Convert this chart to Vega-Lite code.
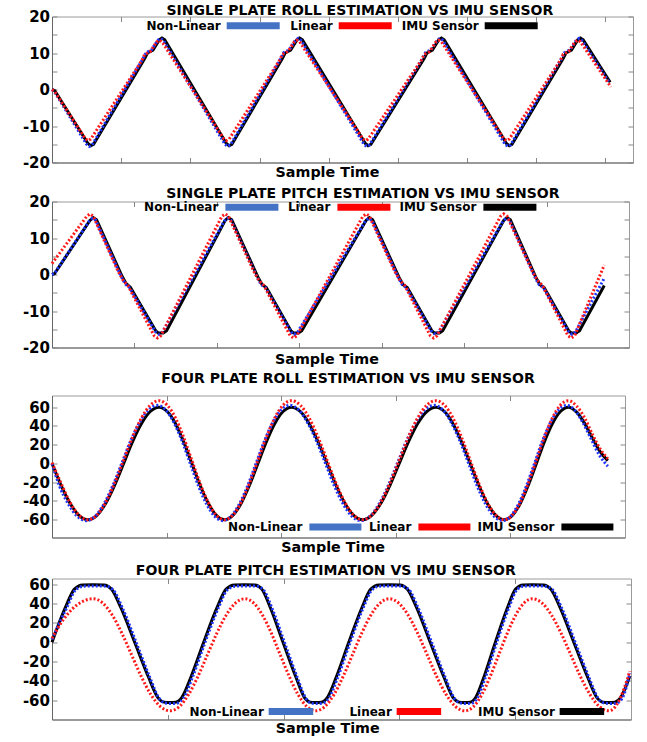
{
  "$schema": "https://vega.github.io/schema/vega-lite/v6.json",
  "background": "white",
  "padding": {"left": 21, "top": -1.5, "right": 2, "bottom": 0},
  "columns": 1,
  "align": "none",
  "spacing": -1,
  "resolve": {"scale": {"color": "independent"}, "legend": {"color": "independent"}},
  "config": {
    "view": {"stroke": "#9a9a9a"},
    "axis": {"grid": false, "domainColor": "#666", "tickColor": "#888", "labelFont": "DejaVu Sans", "labelFontWeight": "bold", "labelFontSize": 15, "labelColor": "#000", "titleFont": "DejaVu Sans", "titleFontWeight": "bold", "titleFontSize": 14.3, "titleColor": "#000"},
    "title": {"font": "DejaVu Sans", "fontWeight": "bold", "fontSize": 14, "color": "#000", "frame": "group", "anchor": "middle"},
    "legend": {"title": null, "padding": 0, "labelFont": "DejaVu Sans", "labelFontWeight": "bold", "labelFontSize": 12, "labelColor": "#000", "labelAlign": "right", "labelLimit": 0, "symbolStrokeWidth": 0, "symbolOpacity": 1, "direction": "horizontal", "orient": "none"}
  },
  "datasets": {
    "p1_imu": [{"x":0,"y":0},{"x":4,"y":-0.3},{"x":52,"y":-14.8},{"x":56,"y":-15.4},{"x":60,"y":-15.0},{"x":134,"y":8.5},{"x":138,"y":10.0},{"x":146,"y":10.8},{"x":155,"y":13.6},{"x":159,"y":14.1},{"x":163,"y":13.6},{"x":252,"y":-14.8},{"x":256,"y":-15.4},{"x":260,"y":-15.0},{"x":333,"y":8.5},{"x":337,"y":10.0},{"x":345,"y":10.8},{"x":354,"y":13.6},{"x":358,"y":14.1},{"x":362,"y":13.6},{"x":453,"y":-14.8},{"x":457,"y":-15.4},{"x":461,"y":-15.0},{"x":538,"y":8.5},{"x":542,"y":10.0},{"x":550,"y":10.8},{"x":559,"y":13.6},{"x":563,"y":14.1},{"x":567,"y":13.6},{"x":657,"y":-14.8},{"x":661,"y":-15.4},{"x":665,"y":-15.0},{"x":739,"y":8.5},{"x":743,"y":10.0},{"x":751,"y":10.8},{"x":760,"y":13.6},{"x":764,"y":14.1},{"x":768,"y":13.6},{"x":807,"y":2.0}],
    "p1_nl": [{"x":0,"y":0},{"x":3,"y":-0.4},{"x":50,"y":-15.0},{"x":54,"y":-15.6},{"x":58,"y":-15.2},{"x":132,"y":8.6},{"x":136,"y":10.1},{"x":144,"y":10.9},{"x":153,"y":13.5},{"x":157,"y":14.0},{"x":161,"y":13.5},{"x":250,"y":-15.0},{"x":254,"y":-15.6},{"x":258,"y":-15.2},{"x":331,"y":8.6},{"x":335,"y":10.1},{"x":343,"y":10.9},{"x":352,"y":13.5},{"x":356,"y":14.0},{"x":360,"y":13.5},{"x":451,"y":-15.0},{"x":455,"y":-15.6},{"x":459,"y":-15.2},{"x":536,"y":8.6},{"x":540,"y":10.1},{"x":548,"y":10.9},{"x":557,"y":13.5},{"x":561,"y":14.0},{"x":565,"y":13.5},{"x":655,"y":-15.0},{"x":659,"y":-15.6},{"x":663,"y":-15.2},{"x":737,"y":8.6},{"x":741,"y":10.1},{"x":749,"y":10.9},{"x":758,"y":13.5},{"x":762,"y":14.0},{"x":766,"y":13.5},{"x":806,"y":1.8}],
    "p1_lin": [{"x":0,"y":0},{"x":4,"y":-0.6},{"x":48,"y":-13.4},{"x":52,"y":-14.0},{"x":56,"y":-13.6},{"x":130,"y":8.0},{"x":134,"y":9.6},{"x":142,"y":10.4},{"x":151,"y":13.0},{"x":155,"y":13.5},{"x":159,"y":13.1},{"x":248,"y":-13.4},{"x":252,"y":-14.0},{"x":256,"y":-13.6},{"x":329,"y":8.0},{"x":333,"y":9.6},{"x":341,"y":10.4},{"x":350,"y":13.0},{"x":354,"y":13.5},{"x":358,"y":13.1},{"x":449,"y":-13.4},{"x":453,"y":-14.0},{"x":457,"y":-13.6},{"x":534,"y":8.0},{"x":538,"y":9.6},{"x":546,"y":10.4},{"x":555,"y":13.0},{"x":559,"y":13.5},{"x":563,"y":13.1},{"x":653,"y":-13.4},{"x":657,"y":-14.0},{"x":661,"y":-13.6},{"x":735,"y":8.0},{"x":739,"y":9.6},{"x":747,"y":10.4},{"x":756,"y":13.0},{"x":760,"y":13.5},{"x":764,"y":13.1},{"x":808,"y":0.7}],
    "p2_imu": [{"x":0,"y":0},{"x":3,"y":0.2},{"x":46,"y":14.8},{"x":50,"y":15.6},{"x":54,"y":15.0},{"x":85,"y":-0.5},{"x":90,"y":-2.5},{"x":95,"y":-3.5},{"x":126,"y":-15.5},{"x":129,"y":-16.0},{"x":135,"y":-16.0},{"x":139,"y":-15.4},{"x":210,"y":14.8},{"x":214,"y":15.6},{"x":218,"y":15.0},{"x":250,"y":-0.8},{"x":255,"y":-2.8},{"x":260,"y":-3.6},{"x":290,"y":-15.5},{"x":293,"y":-16.0},{"x":299,"y":-16.0},{"x":303,"y":-15.4},{"x":381,"y":14.8},{"x":385,"y":15.6},{"x":389,"y":15.0},{"x":421,"y":-0.8},{"x":426,"y":-2.8},{"x":431,"y":-3.6},{"x":461,"y":-15.5},{"x":464,"y":-16.0},{"x":470,"y":-16.0},{"x":474,"y":-15.4},{"x":548,"y":14.8},{"x":552,"y":15.6},{"x":556,"y":15.0},{"x":587,"y":-0.8},{"x":592,"y":-2.8},{"x":597,"y":-3.6},{"x":627,"y":-15.5},{"x":630,"y":-16.0},{"x":636,"y":-16.0},{"x":640,"y":-15.4},{"x":670,"y":-3.0}],
    "p2_nl": [{"x":0,"y":0},{"x":3,"y":0.3},{"x":45,"y":14.6},{"x":49,"y":15.4},{"x":53,"y":14.9},{"x":84,"y":-0.6},{"x":89,"y":-2.6},{"x":94,"y":-3.6},{"x":126,"y":-15.8},{"x":130,"y":-16.4},{"x":134,"y":-15.8},{"x":209,"y":14.6},{"x":213,"y":15.4},{"x":217,"y":14.9},{"x":249,"y":-0.8},{"x":254,"y":-2.8},{"x":259,"y":-3.6},{"x":290,"y":-15.8},{"x":294,"y":-16.4},{"x":298,"y":-15.8},{"x":380,"y":14.6},{"x":384,"y":15.4},{"x":388,"y":14.9},{"x":420,"y":-0.8},{"x":425,"y":-2.8},{"x":430,"y":-3.6},{"x":461,"y":-15.8},{"x":465,"y":-16.4},{"x":469,"y":-15.8},{"x":547,"y":14.6},{"x":551,"y":15.4},{"x":555,"y":14.9},{"x":586,"y":-0.8},{"x":591,"y":-2.8},{"x":596,"y":-3.6},{"x":627,"y":-15.8},{"x":631,"y":-16.4},{"x":635,"y":-15.8},{"x":670,"y":-1.0}],
    "p2_lin": [{"x":0,"y":3.0},{"x":42,"y":15.9},{"x":46,"y":16.6},{"x":50,"y":16.0},{"x":80,"y":1.0},{"x":86,"y":-1.5},{"x":92,"y":-3.0},{"x":124,"y":-16.8},{"x":128,"y":-17.4},{"x":132,"y":-16.8},{"x":206,"y":15.9},{"x":210,"y":16.6},{"x":214,"y":16.0},{"x":245,"y":0.8},{"x":251,"y":-1.6},{"x":257,"y":-3.0},{"x":289,"y":-16.8},{"x":293,"y":-17.4},{"x":297,"y":-16.8},{"x":377,"y":15.9},{"x":381,"y":16.6},{"x":385,"y":16.0},{"x":416,"y":0.8},{"x":422,"y":-1.6},{"x":428,"y":-3.0},{"x":459,"y":-16.8},{"x":463,"y":-17.4},{"x":467,"y":-16.8},{"x":544,"y":15.9},{"x":548,"y":16.6},{"x":552,"y":16.0},{"x":583,"y":0.8},{"x":589,"y":-1.6},{"x":595,"y":-3.0},{"x":626,"y":-16.8},{"x":630,"y":-17.4},{"x":634,"y":-16.8},{"x":670,"y":2.6}],
    "p3_imu": [{"x":0,"y":0},{"x":7.8,"y":-23},{"x":15.7,"y":-42.4},{"x":23.5,"y":-55.4},{"x":31.4,"y":-60},{"x":39.2,"y":-55.4},{"x":46.9,"y":-42.4},{"x":54.7,"y":-23},{"x":62.5,"y":0},{"x":70.2,"y":23},{"x":78,"y":42.4},{"x":85.7,"y":55.4},{"x":93.5,"y":60},{"x":100.6,"y":55.4},{"x":107.8,"y":42.4},{"x":114.9,"y":23},{"x":122,"y":0},{"x":129.1,"y":-23},{"x":136.3,"y":-42.4},{"x":143.4,"y":-55.4},{"x":150.5,"y":-60},{"x":157.8,"y":-55.4},{"x":165.1,"y":-42.4},{"x":172.4,"y":-23},{"x":179.7,"y":0},{"x":187,"y":23},{"x":194.3,"y":42.4},{"x":201.6,"y":55.4},{"x":208.9,"y":60},{"x":216.7,"y":55.4},{"x":224.4,"y":42.4},{"x":232.2,"y":23},{"x":240,"y":0},{"x":247.7,"y":-23},{"x":255.5,"y":-42.4},{"x":263.2,"y":-55.4},{"x":271,"y":-60},{"x":279,"y":-55.4},{"x":287,"y":-42.4},{"x":295,"y":-23},{"x":303,"y":0},{"x":311,"y":23},{"x":319,"y":42.4},{"x":327,"y":55.4},{"x":335,"y":60},{"x":342.5,"y":55.4},{"x":349.9,"y":42.4},{"x":357.4,"y":23},{"x":364.9,"y":0},{"x":372.3,"y":-23},{"x":379.8,"y":-42.4},{"x":387.2,"y":-55.4},{"x":394.7,"y":-60},{"x":401.7,"y":-55.4},{"x":408.7,"y":-42.4},{"x":415.7,"y":-23},{"x":422.7,"y":0},{"x":429.6,"y":23},{"x":436.6,"y":42.4},{"x":443.6,"y":55.4},{"x":450.6,"y":60},{"x":457.6,"y":55},{"x":464.6,"y":43},{"x":471.6,"y":27},{"x":478.6,"y":12},{"x":485,"y":3}],
    "p3_nl": [{"x":0,"y":0},{"x":6.3,"y":-23.3},{"x":14.2,"y":-43.1},{"x":22,"y":-56.3},{"x":29.9,"y":-61},{"x":37.7,"y":-56.3},{"x":45.4,"y":-43.1},{"x":53.2,"y":-23.3},{"x":61,"y":0.5},{"x":68.7,"y":24.3},{"x":76.5,"y":43.8},{"x":84.2,"y":57.2},{"x":92,"y":62},{"x":99.1,"y":57.2},{"x":106.3,"y":43.8},{"x":113.4,"y":24.3},{"x":120.5,"y":0.5},{"x":127.6,"y":-23.3},{"x":134.8,"y":-43.1},{"x":141.9,"y":-56.3},{"x":149,"y":-61},{"x":156.3,"y":-56.3},{"x":163.6,"y":-43.1},{"x":170.9,"y":-23.3},{"x":178.2,"y":0.5},{"x":185.5,"y":24.3},{"x":192.8,"y":43.8},{"x":200.1,"y":57.2},{"x":207.4,"y":62},{"x":215.2,"y":57.2},{"x":222.9,"y":43.8},{"x":230.7,"y":24.3},{"x":238.5,"y":0.5},{"x":246.2,"y":-23.3},{"x":254,"y":-43.1},{"x":261.7,"y":-56.3},{"x":269.5,"y":-61},{"x":277.5,"y":-56.3},{"x":285.5,"y":-43.1},{"x":293.5,"y":-23.3},{"x":301.5,"y":0.5},{"x":309.5,"y":24.3},{"x":317.5,"y":43.8},{"x":325.5,"y":57.2},{"x":333.5,"y":62},{"x":341,"y":57.2},{"x":348.4,"y":43.8},{"x":355.9,"y":24.3},{"x":363.4,"y":0.5},{"x":370.8,"y":-23.3},{"x":378.3,"y":-43.1},{"x":385.7,"y":-56.3},{"x":393.2,"y":-61},{"x":400.2,"y":-56.3},{"x":407.2,"y":-43.1},{"x":414.2,"y":-23.3},{"x":421.2,"y":0.5},{"x":428.1,"y":24.3},{"x":435.1,"y":43.8},{"x":442.1,"y":57.2},{"x":449.1,"y":62},{"x":456.1,"y":57},{"x":463.1,"y":44},{"x":470.1,"y":27},{"x":477.1,"y":10},{"x":485,"y":-3}],
    "p3_lin": [{"x":0,"y":1},{"x":7.8,"y":-20.8},{"x":15.7,"y":-41.4},{"x":23.5,"y":-55.1},{"x":31.4,"y":-60},{"x":39.2,"y":-55.1},{"x":46.9,"y":-41.4},{"x":54.7,"y":-20.8},{"x":62.5,"y":3.5},{"x":70.2,"y":27.8},{"x":78,"y":48.4},{"x":85.7,"y":62.1},{"x":93.5,"y":67},{"x":100.6,"y":62.1},{"x":107.8,"y":48.4},{"x":114.9,"y":27.8},{"x":122,"y":3.5},{"x":129.1,"y":-20.8},{"x":136.3,"y":-41.4},{"x":143.4,"y":-55.1},{"x":150.5,"y":-60},{"x":157.8,"y":-55.1},{"x":165.1,"y":-41.4},{"x":172.4,"y":-20.8},{"x":179.7,"y":3.5},{"x":187,"y":27.8},{"x":194.3,"y":48.4},{"x":201.6,"y":62.1},{"x":208.9,"y":67},{"x":216.7,"y":62.1},{"x":224.4,"y":48.4},{"x":232.2,"y":27.8},{"x":240,"y":3.5},{"x":247.7,"y":-20.8},{"x":255.5,"y":-41.4},{"x":263.2,"y":-55.1},{"x":271,"y":-60},{"x":279,"y":-55.1},{"x":287,"y":-41.4},{"x":295,"y":-20.8},{"x":303,"y":3.5},{"x":311,"y":27.8},{"x":319,"y":48.4},{"x":327,"y":62.1},{"x":335,"y":67},{"x":342.5,"y":62.1},{"x":349.9,"y":48.4},{"x":357.4,"y":27.8},{"x":364.9,"y":3.5},{"x":372.3,"y":-20.8},{"x":379.8,"y":-41.4},{"x":387.2,"y":-55.1},{"x":394.7,"y":-60},{"x":401.7,"y":-55.1},{"x":408.7,"y":-41.4},{"x":415.7,"y":-20.8},{"x":422.7,"y":3.5},{"x":429.6,"y":27.8},{"x":436.6,"y":48.4},{"x":443.6,"y":62.1},{"x":450.6,"y":67},{"x":457.6,"y":61.5},{"x":464.6,"y":49},{"x":471.6,"y":31},{"x":478.6,"y":15},{"x":485,"y":5}],
    "p4_imu": [{"x":0,"y":0},{"x":11.6,"y":36},{"x":19.4,"y":55},{"x":26.4,"y":59.3},{"x":35.5,"y":59.5},{"x":44.8,"y":59.3},{"x":51.4,"y":55},{"x":59.4,"y":36},{"x":71.4,"y":0},{"x":83.3,"y":-36},{"x":91.3,"y":-57},{"x":96.6,"y":-62},{"x":101.9,"y":-62.5},{"x":107.1,"y":-62},{"x":112.2,"y":-57},{"x":120,"y":-36},{"x":131,"y":0},{"x":142.6,"y":36},{"x":150.4,"y":55},{"x":157.5,"y":59.3},{"x":166.5,"y":59.5},{"x":175.1,"y":59.3},{"x":181.2,"y":55},{"x":188.5,"y":36},{"x":199.5,"y":0},{"x":210.6,"y":-36},{"x":217.9,"y":-57},{"x":222.8,"y":-62},{"x":227.7,"y":-62.5},{"x":232.8,"y":-62},{"x":237.9,"y":-57},{"x":245.5,"y":-36},{"x":256.3,"y":0},{"x":267.7,"y":36},{"x":275.3,"y":55},{"x":282.3,"y":59.3},{"x":291.2,"y":59.5},{"x":300.4,"y":59.3},{"x":306.9,"y":55},{"x":314.8,"y":36},{"x":326.6,"y":0},{"x":338.4,"y":-36},{"x":346.2,"y":-57},{"x":351.5,"y":-62},{"x":356.7,"y":-62.5},{"x":361.4,"y":-62},{"x":366,"y":-57},{"x":373,"y":-36},{"x":382.9,"y":0},{"x":393.4,"y":36},{"x":400.4,"y":55},{"x":406.8,"y":59.3},{"x":414.9,"y":59.5},{"x":424.2,"y":59.3},{"x":430.8,"y":55},{"x":438.7,"y":36},{"x":450.6,"y":0},{"x":462.5,"y":-36},{"x":470.4,"y":-57},{"x":475.7,"y":-62},{"x":481,"y":-62.5},{"x":486.1,"y":-62},{"x":491.2,"y":-57},{"x":499,"y":-35}],
    "p4_nl": [{"x":0,"y":3},{"x":12.8,"y":36},{"x":20.6,"y":54.5},{"x":27.6,"y":58.1},{"x":36.7,"y":58.3},{"x":46,"y":58.1},{"x":52.6,"y":54.5},{"x":60.6,"y":36},{"x":72.6,"y":0},{"x":84.5,"y":-36.5},{"x":92.5,"y":-58},{"x":97.8,"y":-63},{"x":103.1,"y":-63.5},{"x":108.3,"y":-63},{"x":113.4,"y":-58},{"x":121.2,"y":-36.5},{"x":132.2,"y":0},{"x":143.8,"y":36},{"x":151.6,"y":54.5},{"x":158.7,"y":58.1},{"x":167.7,"y":58.3},{"x":176.3,"y":58.1},{"x":182.4,"y":54.5},{"x":189.7,"y":36},{"x":200.7,"y":0},{"x":211.8,"y":-36.5},{"x":219.1,"y":-58},{"x":224,"y":-63},{"x":228.9,"y":-63.5},{"x":234,"y":-63},{"x":239.1,"y":-58},{"x":246.7,"y":-36.5},{"x":257.5,"y":0},{"x":268.9,"y":36},{"x":276.5,"y":54.5},{"x":283.5,"y":58.1},{"x":292.4,"y":58.3},{"x":301.6,"y":58.1},{"x":308.1,"y":54.5},{"x":316,"y":36},{"x":327.8,"y":0},{"x":339.6,"y":-36.5},{"x":347.4,"y":-58},{"x":352.7,"y":-63},{"x":357.9,"y":-63.5},{"x":362.6,"y":-63},{"x":367.2,"y":-58},{"x":374.2,"y":-36.5},{"x":384.1,"y":0},{"x":394.6,"y":36},{"x":401.6,"y":54.5},{"x":408,"y":58.1},{"x":416.1,"y":58.3},{"x":425.4,"y":58.1},{"x":432,"y":54.5},{"x":439.9,"y":36},{"x":451.8,"y":0},{"x":463.7,"y":-36.5},{"x":471.6,"y":-58},{"x":476.9,"y":-63},{"x":482.2,"y":-63.5},{"x":487.3,"y":-63},{"x":492.4,"y":-58},{"x":499,"y":-32}],
    "p4_lin": [{"x":0,"y":4},{"x":9,"y":22},{"x":18,"y":35},{"x":27,"y":42.5},{"x":35.5,"y":45},{"x":43.8,"y":40.6},{"x":52.1,"y":28},{"x":60.4,"y":9.2},{"x":68.7,"y":-13},{"x":77,"y":-35.2},{"x":85.3,"y":-54},{"x":93.6,"y":-66.6},{"x":101.9,"y":-71},{"x":110,"y":-66.6},{"x":118,"y":-54},{"x":126.1,"y":-35.2},{"x":134.2,"y":-13},{"x":142.3,"y":9.2},{"x":150.4,"y":28},{"x":158.4,"y":40.6},{"x":166.5,"y":45},{"x":174.2,"y":40.6},{"x":181.8,"y":28},{"x":189.5,"y":9.2},{"x":197.1,"y":-13},{"x":204.8,"y":-35.2},{"x":212.4,"y":-54},{"x":220.1,"y":-66.6},{"x":227.7,"y":-71},{"x":235.6,"y":-66.6},{"x":243.6,"y":-54},{"x":251.5,"y":-35.2},{"x":259.5,"y":-13},{"x":267.4,"y":9.2},{"x":275.3,"y":28},{"x":283.3,"y":40.6},{"x":291.2,"y":45},{"x":299.4,"y":40.6},{"x":307.6,"y":28},{"x":315.8,"y":9.2},{"x":324,"y":-13},{"x":332.1,"y":-35.2},{"x":340.3,"y":-54},{"x":348.5,"y":-66.6},{"x":356.7,"y":-71},{"x":364,"y":-66.6},{"x":371.3,"y":-54},{"x":378.5,"y":-35.2},{"x":385.8,"y":-13},{"x":393.1,"y":9.2},{"x":400.4,"y":28},{"x":407.6,"y":40.6},{"x":414.9,"y":45},{"x":423.2,"y":40.6},{"x":431.4,"y":28},{"x":439.7,"y":9.2},{"x":448,"y":-13},{"x":456.2,"y":-35.2},{"x":464.5,"y":-54},{"x":472.7,"y":-66.6},{"x":481,"y":-71},{"x":488,"y":-64},{"x":494,"y":-48},{"x":499,"y":-30}]
  },
  "concat": [
    {
      "width": 581, "height": 146,
      "title": {"text": "SINGLE PLATE ROLL ESTIMATION VS IMU SENSOR", "offset": -18.5, "dx": 17.3},
      "layer": [
        {"data": {"name": "p1_imu"}, "mark": {"type": "line", "stroke": "#000000", "strokeWidth": 3},
         "encoding": {
           "x": {"field": "x", "type": "quantitative", "scale": {"domain": [0, 840], "nice": false, "zero": false}, "axis": {"title": "Sample Time", "labels": false, "values": [100,200,300,400,500,600,700,800], "tickSize": -5, "titlePadding": 2, "titleX": 275}},
           "y": {"field": "y", "type": "quantitative", "scale": {"domain": [-20, 20], "nice": false}, "axis": {"title": null, "values": [-20,-15,-10,-5,0,5,10,15,20], "labelExpr": "datum.value % 10 == 0 ? '' + datum.value : ''", "tickSize": -5, "labelPadding": 7.5}}
         }},
        {"data": {"name": "p1_nl"}, "mark": {"type": "line", "stroke": "#1f35ff", "strokeWidth": 3, "strokeDash": [2, 2]},
         "encoding": {"x": {"field": "x", "type": "quantitative", "axis": null}, "y": {"field": "y", "type": "quantitative", "axis": null}}},
        {"data": {"name": "p1_lin"}, "mark": {"type": "line", "stroke": "#ff1a1a", "strokeWidth": 3, "strokeDash": [2, 2]},
         "encoding": {"x": {"field": "x", "type": "quantitative", "axis": null}, "y": {"field": "y", "type": "quantitative", "axis": null}}},
        {"data": {"name": "p1_imu"}, "transform": [{"filter": "false"}], "mark": {"type": "point", "filled": true, "opacity": 1},
         "encoding": {
           "x": {"field": "x", "type": "quantitative", "axis": {"orient": "top", "title": null, "labels": false, "domain": false, "values": [100,200,300,400,500,600,700,800], "tickSize": -5}},
           "y": {"field": "y", "type": "quantitative", "axis": {"orient": "right", "title": null, "labels": false, "domain": false, "values": [-20,-15,-10,-5,0,5,10,15,20], "tickSize": -5}},
           "color": {"field": "s", "type": "nominal", "scale": {"domain": ["Non-Linear", "Linear", "IMU Sensor"], "range": ["#4472C4", "#FF0000", "#000000"]},
             "legend": {"legendX": 174.7, "legendY": -17.5, "symbolType": "M-1,-0.132L1,-0.132L1,0.132L-1,0.132Z", "symbolSize": 2809, "labelOffset": -59, "columnPadding": 10}}
         }}
      ],
      "resolve": {"axis": {"x": "independent", "y": "independent"}}
    },
    {
      "width": 577, "height": 146,
      "title": {"text": "SINGLE PLATE PITCH ESTIMATION VS IMU SENSOR", "offset": -20, "dx": 22.4},
      "layer": [
        {"data": {"name": "p2_imu"}, "mark": {"type": "line", "stroke": "#000000", "strokeWidth": 3},
         "encoding": {
           "x": {"field": "x", "type": "quantitative", "scale": {"domain": [0, 700], "nice": false, "zero": false}, "axis": {"title": ["Sample Time", " "], "titleLineHeight": 5, "labels": false, "values": [100,200,300,400,500,600], "tickSize": -5, "titlePadding": 4, "titleX": 274.4}},
           "y": {"field": "y", "type": "quantitative", "scale": {"domain": [-20, 20], "nice": false}, "axis": {"title": null, "values": [-20,-15,-10,-5,0,5,10,15,20], "labelExpr": "datum.value % 10 == 0 ? '' + datum.value : ''", "tickSize": -5, "labelPadding": 7.5}}
         }},
        {"data": {"name": "p2_nl"}, "mark": {"type": "line", "stroke": "#1f35ff", "strokeWidth": 3, "strokeDash": [2, 2]},
         "encoding": {"x": {"field": "x", "type": "quantitative", "axis": null}, "y": {"field": "y", "type": "quantitative", "axis": null}}},
        {"data": {"name": "p2_lin"}, "mark": {"type": "line", "stroke": "#ff1a1a", "strokeWidth": 3, "strokeDash": [2, 2]},
         "encoding": {"x": {"field": "x", "type": "quantitative", "axis": null}, "y": {"field": "y", "type": "quantitative", "axis": null}}},
        {"data": {"name": "p2_imu"}, "transform": [{"filter": "false"}], "mark": {"type": "point", "filled": true, "opacity": 1},
         "encoding": {
           "x": {"field": "x", "type": "quantitative", "axis": {"orient": "top", "title": null, "labels": false, "domain": false, "values": [100,200,300,400,500,600], "tickSize": -5}},
           "y": {"field": "y", "type": "quantitative", "axis": {"orient": "right", "title": null, "labels": false, "domain": false, "values": [-20,-15,-10,-5,0,5,10,15,20], "tickSize": -5}},
           "color": {"field": "s", "type": "nominal", "scale": {"domain": ["Non-Linear", "Linear", "IMU Sensor"], "range": ["#4472C4", "#FF0000", "#000000"]},
             "legend": {"legendX": 173.4, "legendY": -21, "symbolType": "M-1,-0.132L1,-0.132L1,0.132L-1,0.132Z", "symbolSize": 2809, "labelOffset": -60, "columnPadding": 9}}
         }}
      ],
      "resolve": {"axis": {"x": "independent", "y": "independent"}}
    },
    {
      "width": 573, "height": 142,
      "title": {"text": "FOUR PLATE ROLL ESTIMATION VS IMU SENSOR", "offset": 8.5, "dx": 9.5},
      "layer": [
        {"data": {"name": "p3_imu"}, "mark": {"type": "line", "stroke": "#000000", "strokeWidth": 3, "interpolate": "monotone"},
         "encoding": {
           "x": {"field": "x", "type": "quantitative", "scale": {"domain": [0, 500], "nice": false, "zero": false}, "axis": {"title": ["Sample Time", " "], "titleLineHeight": 9, "labels": false, "values": [100,200,300,400], "tickSize": -5, "titlePadding": 2.5, "titleX": 280.6}},
           "y": {"field": "y", "type": "quantitative", "scale": {"domain": [-79, 72.5], "nice": false}, "axis": {"title": null, "values": [-60,-40,-20,0,20,40,60], "labelExpr": "'' + datum.value", "tickSize": -5, "labelPadding": 7.5}}
         }},
        {"data": {"name": "p3_nl"}, "mark": {"type": "line", "stroke": "#1f35ff", "strokeWidth": 3, "strokeDash": [2, 2], "interpolate": "monotone"},
         "encoding": {"x": {"field": "x", "type": "quantitative", "axis": null}, "y": {"field": "y", "type": "quantitative", "axis": null}}},
        {"data": {"name": "p3_lin"}, "mark": {"type": "line", "stroke": "#ff1a1a", "strokeWidth": 3, "strokeDash": [2, 2], "interpolate": "monotone"},
         "encoding": {"x": {"field": "x", "type": "quantitative", "axis": null}, "y": {"field": "y", "type": "quantitative", "axis": null}}},
        {"data": {"name": "p3_imu"}, "transform": [{"filter": "false"}], "mark": {"type": "point", "filled": true, "opacity": 1},
         "encoding": {
           "x": {"field": "x", "type": "quantitative", "axis": {"orient": "top", "title": null, "labels": false, "domain": false, "values": [100,200,300,400], "tickSize": -5}},
           "y": {"field": "y", "type": "quantitative", "axis": {"orient": "right", "title": null, "labels": false, "domain": false, "values": [-60,-40,-20,0,20,40,60], "tickSize": -5}},
           "color": {"field": "s", "type": "nominal", "scale": {"domain": ["Non-Linear", "Linear", "IMU Sensor"], "range": ["#4472C4", "#FF0000", "#000000"]},
             "legend": {"legendX": 257.4, "legendY": 105.5, "symbolType": "M-1,-0.135L1,-0.135L1,0.135L-1,0.135Z", "symbolSize": 2704, "labelOffset": -59, "columnPadding": 7}}
         }}
      ],
      "resolve": {"axis": {"x": "independent", "y": "independent"}}
    },
    {
      "width": 579, "height": 141,
      "title": {"text": "FOUR PLATE PITCH ESTIMATION VS IMU SENSOR", "offset": -1.1, "dx": -15.7},
      "layer": [
        {"data": {"name": "p4_imu"}, "mark": {"type": "line", "stroke": "#000000", "strokeWidth": 3, "interpolate": "monotone"},
         "encoding": {
           "x": {"field": "x", "type": "quantitative", "scale": {"domain": [0, 500], "nice": false, "zero": false}, "axis": {"title": "Sample Time", "labels": false, "values": [100,200,300,400], "tickSize": -5, "titlePadding": 1, "titleX": 275.2}},
           "y": {"field": "y", "type": "quantitative", "scale": {"domain": [-80, 66], "nice": false}, "axis": {"title": null, "values": [-60,-40,-20,0,20,40,60], "labelExpr": "'' + datum.value", "tickSize": -5, "labelPadding": 7.5}}
         }},
        {"data": {"name": "p4_nl"}, "mark": {"type": "line", "stroke": "#1f35ff", "strokeWidth": 3, "strokeDash": [2, 2], "interpolate": "monotone"},
         "encoding": {"x": {"field": "x", "type": "quantitative", "axis": null}, "y": {"field": "y", "type": "quantitative", "axis": null}}},
        {"data": {"name": "p4_lin"}, "mark": {"type": "line", "stroke": "#ff1a1a", "strokeWidth": 3, "strokeDash": [2, 2], "interpolate": "monotone"},
         "encoding": {"x": {"field": "x", "type": "quantitative", "axis": null}, "y": {"field": "y", "type": "quantitative", "axis": null}}},
        {"data": {"name": "p4_imu"}, "transform": [{"filter": "false"}], "mark": {"type": "point", "filled": true, "opacity": 1},
         "encoding": {
           "x": {"field": "x", "type": "quantitative", "axis": {"orient": "top", "title": null, "labels": false, "domain": false, "values": [100,200,300,400], "tickSize": -5}},
           "y": {"field": "y", "type": "quantitative", "axis": {"orient": "right", "title": null, "labels": false, "domain": false, "values": [-60,-40,-20,0,20,40,60], "tickSize": -5}},
           "color": {"field": "s", "type": "nominal", "scale": {"domain": ["Non-Linear", "Linear", "IMU Sensor"], "range": ["#4472C4", "#FF0000", "#000000"]},
             "legend": {"legendX": 216.4, "legendY": 110.25, "symbolType": "M-1,-0.157L1,-0.157L1,0.157L-1,0.157Z", "symbolSize": 1980, "labelOffset": -49.5, "columnPadding": 36}}
         }}
      ],
      "resolve": {"axis": {"x": "independent", "y": "independent"}}
    }
  ]
}
